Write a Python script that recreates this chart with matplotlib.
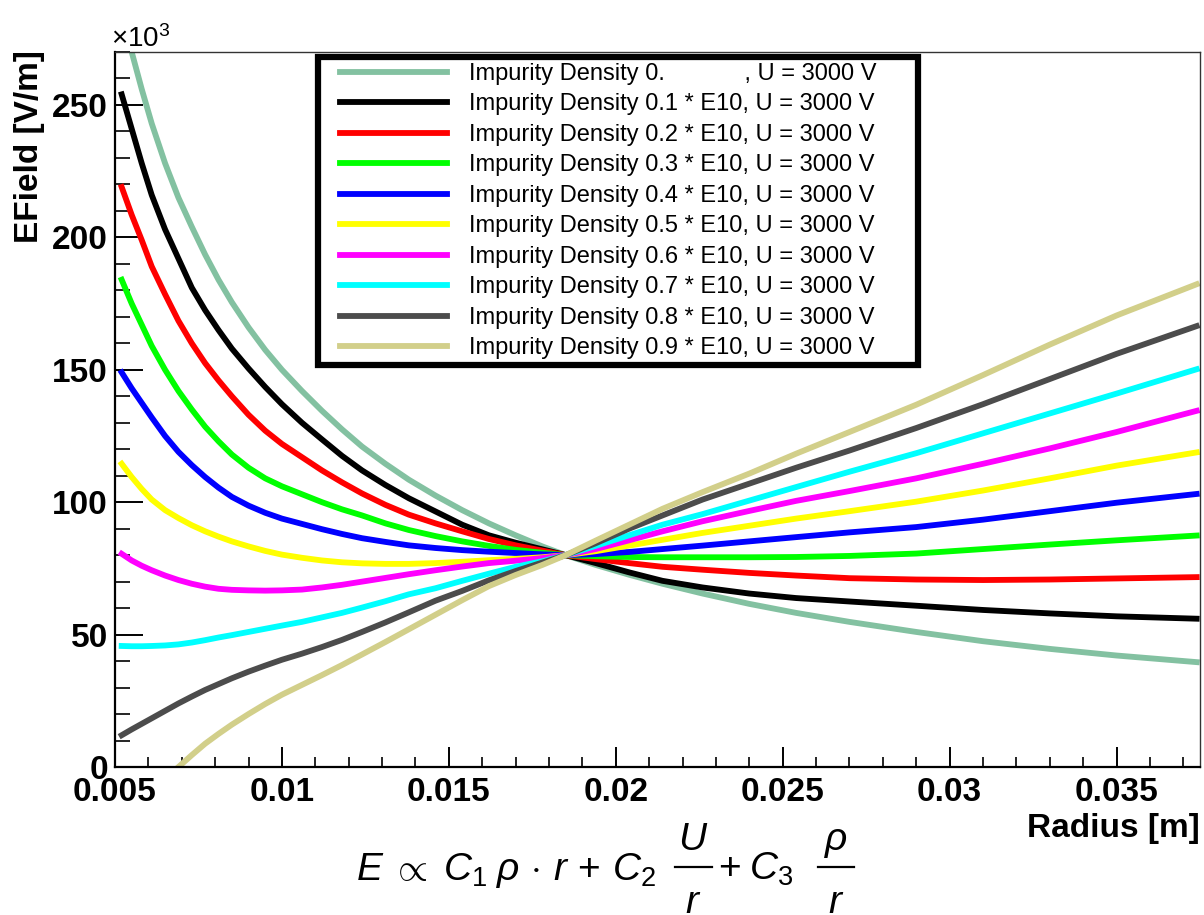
import numpy as np
import matplotlib.pyplot as plt
from matplotlib.lines import Line2D
from matplotlib.legend_handler import HandlerLine2D
from matplotlib.ticker import FixedLocator, FixedFormatter, MultipleLocator

plt.rcParams['font.family'] = ['Liberation Sans', 'DejaVu Sans']
plt.rcParams['mathtext.fontset'] = 'custom'
plt.rcParams['mathtext.rm'] = 'Liberation Sans'
plt.rcParams['mathtext.it'] = 'Liberation Sans:italic'
plt.rcParams['mathtext.bf'] = 'Liberation Sans:bold'

nan = np.nan

# radius [m]
radius = [0.0052, 0.0055, 0.0058, 0.0061, 0.0065, 0.0069, 0.0073, 0.0077,
          0.0081, 0.0085, 0.0090, 0.0095, 0.0100, 0.0106, 0.0112, 0.0118,
          0.0124, 0.0131, 0.0138, 0.0146, 0.0154, 0.0162, 0.0170, 0.0178,
          0.0185, 0.0194, 0.0204, 0.0214, 0.0226, 0.0240, 0.0254, 0.0270,
          0.0290, 0.0310, 0.0330, 0.0350, 0.0374]

# field strength in units of 1e3 V/m, one list per impurity density
field_00 = [285, 270, 256, 243, 228, 215, 204, 193.5, 184, 175.5, 166, 157.5,
            150, 142, 134.5, 127.5, 121, 114.5, 108.5, 102.5, 97, 92, 87.5, 83.3,
            80, 76.3, 72.6, 69.2, 65.5, 61.6, 58.2, 54.8, 51, 47.5, 44.6, 42.1, 39.6]
field_01 = [254, 241, 228, 216, 203, 192, 181, 172.5, 165, 158, 150.5, 143.5,
            137, 130, 123.7, 117.5, 112, 106.5, 101.5, 96.5, 91.5, 87.5, 84.7, 82.2,
            80, 77, 73.5, 70.3, 67.8, 65.5, 63.8, 62.5, 60.9, 59.3, 58, 56.9, 56]
field_02 = [219, 208.5, 199, 189, 178.5, 168.5, 160, 152.5, 146, 140, 133, 127,
            122, 117, 112, 107.5, 103.3, 99, 95.3, 92, 89, 86.1, 83.7, 81.7,
            80, 78.5, 77, 75.6, 74.5, 73.3, 72.3, 71.3, 70.8, 70.6, 70.8, 71.2, 71.7]
field_03 = [184, 175, 167, 159, 150, 142, 135, 128.5, 123, 118, 113, 109,
            106, 103, 100, 97.3, 95, 92, 89.5, 87.2, 85.2, 83.5, 82, 80.9,
            80, 79.6, 79.3, 79.2, 79.2, 79.2, 79.3, 79.7, 80.6, 82.3, 84, 85.6, 87.4]
field_04 = [149, 143, 137.5, 132, 125, 119, 114, 109.5, 105.5, 102, 98.7, 96,
            93.8, 91.8, 89.8, 88, 86.4, 85, 83.7, 82.7, 81.9, 81.3, 80.8, 80.3,
            80, 80.4, 81.2, 82.3, 83.6, 85.2, 86.8, 88.6, 90.6, 93.4, 96.6, 99.8, 103.1]
field_05 = [114.5, 109.5, 105, 101, 97, 94, 91.3, 89, 87, 85.2, 83.3, 81.6,
            80.2, 79, 78, 77.3, 76.9, 76.7, 76.7, 77, 77.5, 78.1, 78.6, 79.2,
            80, 81.5, 83.6, 85.8, 88.4, 91.1, 93.8, 96.6, 100.2, 104.4, 109, 113.8, 118.8]
field_06 = [80.5, 78, 76, 74.3, 72.3, 70.6, 69.2, 68.1, 67.3, 66.9, 66.7, 66.6,
            66.7, 67, 67.8, 68.8, 70, 71.4, 72.8, 74.3, 75.7, 77, 77.9, 78.9,
            80, 82.3, 85.6, 89, 92.8, 96.7, 100.5, 104.2, 109, 114.5, 120.3, 126.5, 134.5]
field_07 = [45.7, 45.6, 45.6, 45.7, 45.9, 46.3, 47, 47.9, 48.9, 49.8, 51, 52.2,
            53.4, 54.8, 56.5, 58.2, 60.2, 62.6, 65.2, 67.5, 70.3, 73, 75.6, 77.7,
            80, 83.5, 87.5, 91.5, 95.5, 100.6, 105.7, 111.5, 118.5, 126, 133.5, 141, 150.2]
field_08 = [12, 14.2, 16.3, 18.4, 21.2, 24, 26.6, 29.1, 31.3, 33.5, 36, 38.3,
            40.5, 42.8, 45.3, 48, 51, 54.6, 58.4, 62.8, 66.5, 70.5, 74, 77.2,
            80, 84.5, 90, 95, 101, 107, 113, 119.5, 128, 137, 146.5, 156, 166.5]
field_09 = [nan, nan, nan, nan, -4.5, 0, 4.5, 8.8, 12.5, 16, 20, 23.8,
            27.3, 31, 34.7, 38.5, 42.5, 47.2, 52, 57.5, 63, 68.3, 72.5, 76.3,
            80, 85.5, 91.5, 97.5, 103.8, 110.8, 118.3, 126.5, 136.8, 148, 159.5, 170.5, 182.3]

fields = [field_00, field_01, field_02, field_03, field_04,
          field_05, field_06, field_07, field_08, field_09]
densities = ['0.', '0.1', '0.2', '0.3', '0.4', '0.5', '0.6', '0.7', '0.8', '0.9']
voltage = 3000

x_ticks = [0.005, 0.01, 0.015, 0.02, 0.025, 0.03, 0.035]
x_labels = ['0.005', '0.01', '0.015', '0.02', '0.025', '0.03', '0.035']
y_ticks = [0, 50, 100, 150, 200, 250]

colors = ['#83c1a1', '#000000', '#ff0000', '#00ff00', '#0000ff',
          '#ffff00', '#ff00ff', '#00ffff', '#4c4c4c', '#d2cf8a']

W, H = 1204, 915
fig = plt.figure(figsize=(W / 100, H / 100), dpi=100)
ax = fig.add_axes([115 / W, 148 / H, 1085 / W, 715 / H])

for dens, vals, col in zip(densities, fields, colors):
    if dens == '0.':
        label = 'Impurity Density 0.' + ' ' * 12 + ', U = %d V' % voltage
    else:
        label = 'Impurity Density %s * E10, U = %d V' % (dens, voltage)
    ax.plot(radius, vals, color=col, lw=4.2, label=label)

ax.set_xlim(0.005, 0.0375)
ax.set_ylim(0, 270)

ax.xaxis.set_major_locator(FixedLocator(x_ticks))
ax.xaxis.set_major_formatter(FixedFormatter(x_labels))
ax.xaxis.set_minor_locator(MultipleLocator(0.001))
ax.yaxis.set_major_locator(FixedLocator(y_ticks))
ax.yaxis.set_minor_locator(MultipleLocator(10))

ax.tick_params(axis='x', which='major', direction='in', length=14.5, width=1.4,
               pad=7, labelsize=24)
ax.tick_params(axis='x', which='minor', direction='in', length=7, width=1.2)
ax.tick_params(axis='y', which='major', direction='in', length=20, width=1.4,
               pad=5, labelsize=24)
ax.tick_params(axis='y', which='minor', direction='in', length=11, width=1.2)
plt.setp(ax.get_xticklabels() + ax.get_yticklabels(), fontweight='bold')

for side in ['left', 'bottom']:
    ax.spines[side].set_linewidth(1.6)
for side in ['top', 'right']:
    ax.spines[side].set_linewidth(1.0)
    ax.spines[side].set_color('#333333')

# legend: sample lines inset from the frame, ROOT style box
leg = ax.legend(loc='upper left', bbox_to_anchor=(0.187, 0.0, 0.553, 0.993),
                mode='expand', borderaxespad=0, fontsize=17,
                handlelength=5.2, handletextpad=0.93, labelspacing=0.36,
                borderpad=0.25, fancybox=False, framealpha=1,
                handler_map={Line2D: HandlerLine2D(xpad=0.68)})
leg.get_frame().set_edgecolor('black')
leg.get_frame().set_linewidth(4.5)

fig.text(111 / W, 1 - 47 / H, '×10$^{3}$', fontsize=20, va='baseline')
fig.text(30 / W, 1 - 50 / H, 'EField [V/m]', rotation=90, ha='center',
         va='top', fontsize=24, fontweight='bold')
fig.text(1200 / W, 1 - 837 / H, 'Radius [m]', ha='right', va='baseline',
         fontsize=24, fontweight='bold')


def px(x, y):
    # pixel position (from top-left) to figure fraction
    return x / W, 1 - y / H


# field formula, with the two fractions set by hand
fs = 28
fig.text(*px(356, 880), r'$E\;\propto\;C_1\;\rho\,\cdot\,r\,+\,C_2$',
         ha='left', va='baseline', fontsize=fs)
fig.text(*px(718, 880), r'$+\;C_3$', ha='left', va='baseline', fontsize=fs)
for x0, x1, num in [(675, 712, r'$U$'), (818, 854, r'$\rho$')]:
    (fx0, fy), (fx1, _) = px(x0, 867), px(x1, 867)
    fig.add_artist(Line2D([fx0, fx1], [fy, fy], color='black', lw=1.6))
    fig.text(*px((x0 + x1) / 2, 850), num, ha='center', va='baseline', fontsize=fs)
    fig.text(*px((x0 + x1) / 2, 913), r'$r$', ha='center', va='baseline', fontsize=fs)

fig.savefig('out.png', dpi=100)
